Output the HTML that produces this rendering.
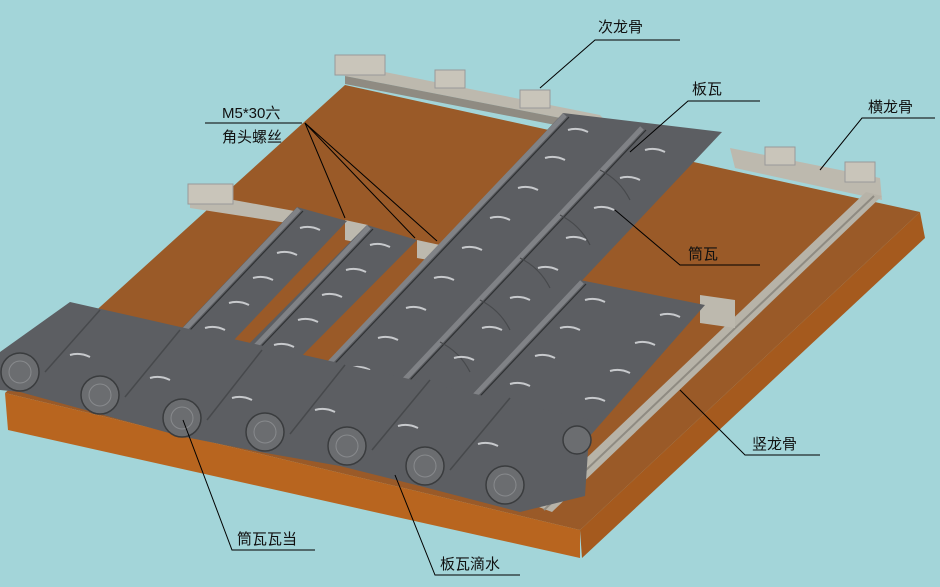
<!DOCTYPE html>
<html><head><meta charset="utf-8"><style>
html,body{margin:0;padding:0;background:#a3d5d9;}
svg{display:block}
text{font-family:"Liberation Sans","Noto Sans CJK SC",sans-serif;font-size:15px;fill:#111}
</style></head><body>
<svg width="940" height="587" viewBox="0 0 940 587" xmlns="http://www.w3.org/2000/svg">
<rect width="940" height="587" fill="#a3d5d9"/>
<!-- board -->
<polygon points="345,85 920,212 580,530 5,393" fill="#9a5a28"/>
<polygon points="5,393 580,530 580,558 8,430" fill="#b8651f"/>
<polygon points="580,530 920,212 925,238 582,558" fill="#a55a1e"/>
<!-- back beam -->
<polygon points="335,62 600,115 612,128 345,76" fill="#bdb9ae"/>
<polygon points="345,76 612,128 612,136 345,84" fill="#8f8b82"/>
<g fill="#c9c5ba" stroke="#999" stroke-width="1">
<rect x="335" y="55" width="50" height="20"/><rect x="435" y="70" width="30" height="18"/><rect x="520" y="90" width="30" height="18"/>
</g>
<!-- right beam -->
<polygon points="730,148 880,178 882,200 735,168" fill="#bdb9ae"/>
<g fill="#c9c5ba" stroke="#999"><rect x="765" y="147" width="30" height="18"/><rect x="845" y="162" width="30" height="20"/></g>
<!-- left beam -->
<polygon points="190,192 300,212 300,225 190,208" fill="#bdb9ae"/>
<g fill="#c9c5ba" stroke="#999"><rect x="188" y="184" width="45" height="20"/></g>
<polygon points="345,220 368,225 368,245 345,240" fill="#bdb9ae"/>
<polygon points="417,240 440,245 440,262 417,258" fill="#bdb9ae"/>
<!-- vertical keel -->
<polygon points="866,192 882,196 552,512 536,506" fill="#b7b3a8"/>
<line x1="874" y1="196" x2="544" y2="510" stroke="#8f8b82" stroke-width="2"/>
<!-- right lower beam block -->
<polygon points="700,295 735,300 735,328 700,323" fill="#bdb9ae"/>
<!-- strips -->
<g fill="#5c5e62">
<polygon points="297,207 347,221 195,381 145,367"/>
<polygon points="367,225 417,240 256,402 206,387"/>
<polygon points="563,113 722,132 408,465 250,446"/>
<polygon points="580,280 705,305 560,470 418,450"/>
</g>
<!-- ridges -->
<g stroke="#808286" stroke-width="5" fill="none">
<line x1="299" y1="209" x2="150" y2="366"/>
<line x1="369" y1="227" x2="212" y2="392"/>
<line x1="565" y1="115" x2="260" y2="436"/>
<line x1="642" y1="128" x2="340" y2="448"/>
<line x1="582" y1="282" x2="428" y2="445"/>
</g>
<g stroke="#2f3133" stroke-width="1.2" fill="none">
<line x1="303" y1="211" x2="154" y2="368"/>
<line x1="373" y1="229" x2="216" y2="394"/>
<line x1="569" y1="117" x2="264" y2="438"/>
<line x1="646" y1="130" x2="344" y2="450"/>
<line x1="586" y1="284" x2="432" y2="447"/>
</g>
<!-- cylinder joints on long strip -->
<g stroke="#47494c" stroke-width="1.2" fill="none">
<path d="M600,170 q20,10 30,30"/><path d="M560,215 q20,10 30,30"/><path d="M520,258 q20,10 30,30"/><path d="M480,300 q20,10 30,30"/><path d="M440,342 q20,10 30,30"/><path d="M400,385 q20,10 30,30"/>
</g>
<!-- highlights -->
<g stroke="#c7c9cc" stroke-width="2" fill="none">
<path d="M300,228 q10,-3 20,2"/><path d="M277,253 q10,-3 20,2"/><path d="M253,278 q10,-3 20,2"/><path d="M229,303 q10,-3 20,2"/><path d="M205,328 q10,-3 20,2"/>
<path d="M370,245 q10,-3 20,2"/><path d="M346,270 q10,-3 20,2"/><path d="M322,295 q10,-3 20,2"/><path d="M298,320 q10,-3 20,2"/><path d="M274,345 q10,-3 20,2"/>
<path d="M568,130 q10,-3 20,2"/><path d="M545,158 q10,-3 20,2"/><path d="M518,188 q10,-3 20,2"/><path d="M490,218 q10,-3 20,2"/><path d="M462,248 q10,-3 20,2"/><path d="M434,278 q10,-3 20,2"/><path d="M406,308 q10,-3 20,2"/><path d="M378,338 q10,-3 20,2"/><path d="M350,368 q10,-3 20,2"/>
<path d="M645,150 q10,-3 20,2"/><path d="M620,178 q10,-3 20,2"/><path d="M594,208 q10,-3 20,2"/><path d="M566,238 q10,-3 20,2"/><path d="M538,268 q10,-3 20,2"/><path d="M510,298 q10,-3 20,2"/><path d="M482,328 q10,-3 20,2"/><path d="M454,358 q10,-3 20,2"/><path d="M426,388 q10,-3 20,2"/>
<path d="M585,300 q10,-3 20,2"/><path d="M560,328 q10,-3 20,2"/><path d="M535,356 q10,-3 20,2"/><path d="M510,384 q10,-3 20,2"/><path d="M485,412 q10,-3 20,2"/>
<path d="M660,315 q10,-3 20,2"/><path d="M635,343 q10,-3 20,2"/><path d="M610,371 q10,-3 20,2"/><path d="M585,399 q10,-3 20,2"/>
</g>
<!-- front eave band -->
<polygon points="0,352 70,302 590,420 585,496 520,512 420,486 340,466 260,452 180,436 100,414 20,392 0,390" fill="#5c5e62"/>
<g stroke="#47494c" stroke-width="1.5" fill="none">
<line x1="45" y1="372" x2="100" y2="310"/><line x1="125" y1="397" x2="180" y2="330"/><line x1="207" y1="420" x2="262" y2="350"/><line x1="290" y1="434" x2="345" y2="365"/><line x1="372" y1="450" x2="430" y2="380"/><line x1="450" y1="470" x2="510" y2="398"/>
</g>
<g stroke="#c7c9cc" stroke-width="2" fill="none">
<path d="M70,355 q10,-3 20,2"/><path d="M150,378 q10,-3 20,2"/><path d="M232,398 q10,-3 20,2"/><path d="M315,410 q10,-3 20,2"/><path d="M398,426 q10,-3 20,2"/><path d="M478,444 q10,-3 20,2"/>
</g>
<!-- round tile ends -->
<g fill="#6b6d70" stroke="#3a3c3e" stroke-width="1.5">
<circle cx="20" cy="372" r="19"/><circle cx="100" cy="395" r="19"/><circle cx="182" cy="418" r="19"/><circle cx="265" cy="432" r="19"/><circle cx="347" cy="446" r="19"/><circle cx="425" cy="466" r="19"/><circle cx="505" cy="485" r="19"/><circle cx="577" cy="440" r="14"/>
</g>
<g fill="none" stroke="#888a8d" stroke-width="1">
<circle cx="20" cy="372" r="11"/><circle cx="100" cy="395" r="11"/><circle cx="182" cy="418" r="11"/><circle cx="265" cy="432" r="11"/><circle cx="347" cy="446" r="11"/><circle cx="425" cy="466" r="11"/><circle cx="505" cy="485" r="11"/>
</g>
<!-- leaders -->
<g stroke="#000" stroke-width="1" fill="none">
<polyline points="680,40 595,40 540,88"/>
<polyline points="760,101 688,101 630,152"/>
<polyline points="935,118 862,118 820,170"/>
<polyline points="205,123 302,123"/>
<line x1="305" y1="123" x2="345" y2="218"/>
<line x1="305" y1="123" x2="415" y2="238"/>
<line x1="305" y1="123" x2="437" y2="241"/>
<polyline points="760,265 680,265 615,210"/>
<polyline points="820,455 745,455 680,390"/>
<polyline points="315,550 232,550 183,420"/>
<polyline points="520,575 435,575 395,475"/>
</g>
<text x="598" y="32">次龙骨</text>
<text x="692" y="94">板瓦</text>
<text x="868" y="112">横龙骨</text>
<text x="222" y="118">M5*30六</text>
<text x="222" y="142">角头螺丝</text>
<text x="688" y="259">筒瓦</text>
<text x="752" y="449">竖龙骨</text>
<text x="237" y="544">筒瓦瓦当</text>
<text x="440" y="569">板瓦滴水</text>
</svg>
</body></html>
